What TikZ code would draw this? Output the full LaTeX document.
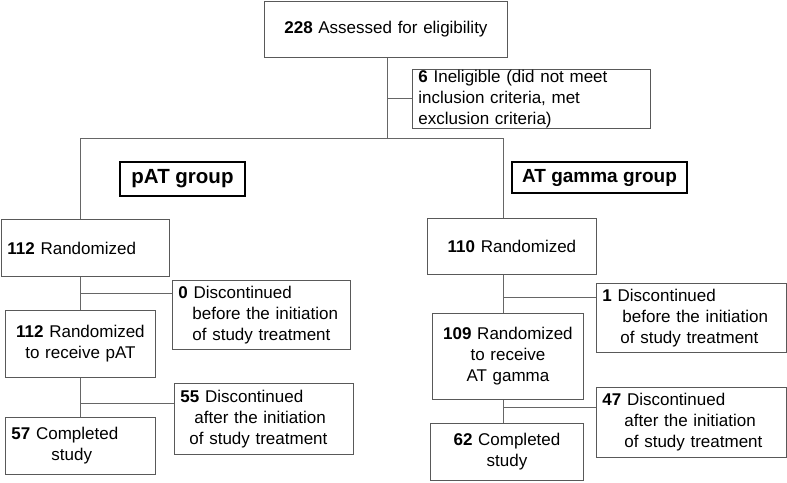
\documentclass[tikz,border=0pt]{standalone}
\usepackage{fontspec}
\setmainfont{Liberation Sans}
\usetikzlibrary{positioning}

\begin{document}
\begin{tikzpicture}[x=1pt, y=-1pt,
    caja/.style={draw=black!65, line width=0.9pt, anchor=north west, inner xsep=6pt, inner ysep=0pt, font=\fontsize{17}{21}\selectfont},
    grupo/.style={draw=black, line width=2.4pt, inner sep=0pt, font=\bfseries\fontsize{20.5}{24}\selectfont},
    linea/.style={draw=black!60, line width=1pt}]
              \useasboundingbox (0,0) rectangle (787,482);
              % Cajas
              \node[caja, text width=231pt, minimum height=56pt, align=center] (evaluados) at (264,1) {\textbf{228} Assessed for eligibility};
              \node[caja, text width=226pt, minimum height=59pt, align=left] (excluidos) at (412,69) {\textbf{6} Ineligible (did not meet\\inclusion criteria, met\\exclusion criteria)};
              \node[grupo, minimum width=125pt, minimum height=34pt] (grupoA) at (182.5,179) {pAT group};
              \node[grupo, minimum width=175pt, minimum height=31pt, font=\bfseries\fontsize{19}{23}\selectfont] (grupoB) at (599.5,177.5) {AT gamma group};
              \node[caja, text width=156pt, minimum height=57pt, align=left] (aleatA) at (1,219) {\textbf{112} Randomized};
              \node[caja, text width=166pt, minimum height=69pt, align=left] (retiroA1) at (172,280) {\textbf{0} Discontinued\\\hspace*{14pt}before the initiation\\\hspace*{14pt}of study treatment};
              \node[caja, text width=138pt, minimum height=67pt, align=center] (recibeA) at (5,310) {\textbf{112} Randomized\\to receive pAT};
              \node[caja, text width=167pt, minimum height=71pt, align=left] (retiroA2) at (174,383) {\textbf{55} Discontinued\\\hspace*{14pt}after the initiation\\\hspace*{9pt}of study treatment};
              \node[caja, text width=138pt, minimum height=57pt, align=left] (finA) at (5,417) {\textbf{57} Completed\\\hspace*{40pt}study};
              \node[caja, text width=157pt, minimum height=56pt, align=center] (aleatB) at (427,218) {\textbf{110} Randomized};
              \node[caja, text width=178pt, minimum height=69pt, align=left] (retiroB1) at (596,283) {\textbf{1} Discontinued\\\hspace*{20pt}before the initiation\\\hspace*{18pt}of study treatment};
              \node[caja, text width=139pt, minimum height=86pt, align=center] (recibeB) at (432,313) {\textbf{109} Randomized\\to receive\\AT gamma};
              \node[caja, text width=178pt, minimum height=70pt, align=left] (retiroB2) at (596,387) {\textbf{47} Discontinued\\\hspace*{22pt}after the initiation\\\hspace*{22pt}of study treatment};
              \node[caja, text width=141pt, minimum height=57pt, align=center] (finB) at (430,423) {\textbf{62} Completed\\study};

              % Lineas
              \coordinate (tronco) at (387,138);
              \coordinate (troncoA) at (80,138);
              \coordinate (troncoB) at (503,138);
              \coordinate (ramaE) at (387,98);
              \coordinate (ramaA1) at (80,293);
              \coordinate (ramaA2) at (80,403);
              \coordinate (ramaB1) at (503,297);
              \coordinate (ramaB2) at (503,407);
              \draw[linea] (evaluados.south -| tronco) -- (tronco);
              \draw[linea] (ramaE) -- (ramaE -| excluidos.west);
              \draw[linea] (troncoA) -- (troncoB);
              \draw[linea] (troncoA) -- (troncoA |- aleatA.north);
              \draw[linea] (troncoB) -- (troncoB |- aleatB.north);
              \draw[linea] (troncoA |- aleatA.south) -- (troncoA |- recibeA.north);
              \draw[linea] (troncoA |- recibeA.south) -- (troncoA |- finA.north);
              \draw[linea] (troncoB |- aleatB.south) -- (troncoB |- recibeB.north);
              \draw[linea] (troncoB |- recibeB.south) -- (troncoB |- finB.north);
              \draw[linea] (ramaA1) -- (ramaA1 -| retiroA1.west);
              \draw[linea] (ramaA2) -- (ramaA2 -| retiroA2.west);
              \draw[linea] (ramaB1) -- (ramaB1 -| retiroB1.west);
              \draw[linea] (ramaB2) -- (ramaB2 -| retiroB2.west);
\end{tikzpicture}
\end{document}
